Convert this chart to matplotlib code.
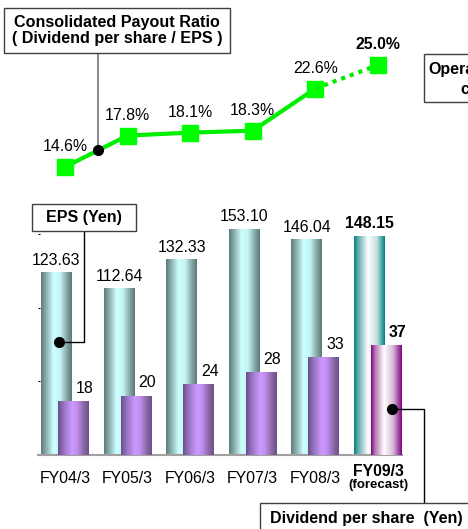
import numpy as np
import matplotlib
matplotlib.use('Agg')
import matplotlib.pyplot as plt
from matplotlib.colors import LinearSegmentedColormap
from matplotlib.patches import Rectangle

plt.rcParams['font.family'] = ['Liberation Sans', 'DejaVu Sans']

categories = ['FY04/3', 'FY05/3', 'FY06/3', 'FY07/3', 'FY08/3', 'FY09/3']
eps = [123.63, 112.64, 132.33, 153.10, 146.04, 148.15]
dividend = [18, 20, 24, 28, 33, 37]
payout = [14.6, 17.8, 18.1, 18.3, 22.6, 25.0]
forecast = [False, False, False, False, False, True]

W, H = 468, 529
fig = plt.figure(figsize=(W / 100, H / 100), dpi=100)


def fpos(x, y, w, h):
    # pixel box (from top-left) -> figure fraction
    return [x / W, 1 - (y + h) / H, w / W, h / H]


# gradient colormaps for the cylinder look
eps_cm = LinearSegmentedColormap.from_list('eps', [(0, '#5d7c7c'), (0.18, '#8fb3b3'), (0.4, '#ccffff'),
                                                   (0.62, '#c4f4f4'), (0.84, '#86a6a6'), (1, '#5a7878')])
div_cm = LinearSegmentedColormap.from_list('div', [(0, '#6a4f8c'), (0.2, '#9a76c4'), (0.45, '#cc99ff'),
                                                   (0.62, '#bf8ff0'), (0.85, '#87659f'), (1, '#6a4f8c')])
eps_fc = LinearSegmentedColormap.from_list('epsf', [(0, '#008080'), (0.12, '#5aa8a8'), (0.45, '#ffffff'),
                                                    (0.75, '#c0dede'), (1, '#008080')])
div_fc = LinearSegmentedColormap.from_list('divf', [(0, '#800080'), (0.12, '#b070b0'), (0.42, '#ffffff'),
                                                    (0.72, '#d8b8d8'), (1, '#800080')])
grad = np.linspace(0, 1, 128).reshape(1, -1)

# bar axes (EPS left scale, dividend at double scale on twin)
ax = fig.add_axes(fpos(38, 200, 364, 255))
ax2 = ax.twinx()
bw = 0.495
off = 0.136
x = np.arange(len(categories))
for i in x:
    cm = eps_fc if forecast[i] else eps_cm
    ax.imshow(grad, cmap=cm, extent=(i - off - bw / 2, i - off + bw / 2, 0, eps[i]),
              aspect='auto', interpolation='bilinear')
    cm = div_fc if forecast[i] else div_cm
    ax2.imshow(grad, cmap=cm, extent=(i + off - bw / 2, i + off + bw / 2, 0, dividend[i]),
               aspect='auto', interpolation='bilinear')
    fw = 'bold' if forecast[i] else 'normal'
    ax.annotate(f'{eps[i]:.2f}', (i - off, eps[i]), xytext=(0, 9), textcoords='offset points',
                ha='center', va='center', fontsize=11.4, fontweight=fw)
    ax2.annotate(f'{dividend[i]}', (i + off, dividend[i]), xytext=(8, 9.5), textcoords='offset points',
                 ha='center', va='center', fontsize=11.4, fontweight=fw)

ax.set_xlim(-0.431, 5.383)
ax.set_ylim(0, 255 / 1.475)
ax2.set_ylim(0, 255 / 2.95)
for a in (ax, ax2):
    for s in a.spines.values():
        s.set_visible(False)
    a.set_xticks([])
    a.set_yticks([])
ax.spines['bottom'].set_visible(True)
ax.spines['bottom'].set_color('#a0a0a0')
ax.spines['bottom'].set_linewidth(1.5)
ax.set_yticks([0, 50, 100, 150])
ax.tick_params(axis='y', length=1.2, width=0.8, labelleft=False, direction='in')

# category labels
for i, lab in enumerate(categories):
    if forecast[i]:
        ax.annotate(lab, (i, 0), xytext=(0, -12), textcoords='offset points', ha='center', va='center',
                    fontsize=11.4, fontweight='bold', annotation_clip=False)
        ax.annotate('(forecast)', (i, 0), xytext=(0, -21.5), textcoords='offset points', ha='center',
                    va='center', fontsize=9.5, fontweight='bold', annotation_clip=False)
    else:
        ax.annotate(lab, (i, 0), xytext=(0, -17), textcoords='offset points', ha='center', va='center',
                    fontsize=11.4, annotation_clip=False)

# payout ratio line
axl = fig.add_axes(fpos(38, 30, 364, 150))
axl.set_xlim(-0.431, 5.383)
axl.set_ylim((310 - 180) / 9.8, (310 - 30) / 9.8)
axl.axis('off')
axl.patch.set_alpha(0)
green = '#00ee00'
axl.plot(x[:5], payout[:5], color=green, lw=3, marker='s', ms=11, mfc='#00ff00', mec='#00ff00')
axl.plot(x[4:], payout[4:], color=green, lw=3, ls=(0, (1, 1.2)))
axl.plot(x[5], payout[5], marker='s', ms=11, color='#00ff00')
for i in x:
    fw = 'bold' if forecast[i] else 'normal'
    axl.annotate(f'{payout[i]:.1f}%', (i, payout[i]), xytext=(0, 14.5), textcoords='offset points',
                 ha='center', va='center', fontsize=11.4, fontweight=fw)

# callout boxes
def box(x0, y0, w, h):
    fig.add_artist(Rectangle((x0 / W, 1 - (y0 + h) / H), w / W, h / H, transform=fig.transFigure,
                             fc='white', ec='#404040', lw=1, zorder=5))

box(4, 8, 226, 45)
fig.text(117 / W, 1 - 30.5 / H, 'Consolidated Payout Ratio\n( Dividend per share / EPS )', ha='center',
         va='center', fontsize=11.6, fontweight='bold', linespacing=1.15, zorder=6)
px = 0.527
py = payout[0] + px * (payout[1] - payout[0])
axl.annotate('', (px, py), xytext=(98, H - 53), textcoords='figure pixels',
             arrowprops=dict(arrowstyle='-', color='#777777', lw=1.2, shrinkA=0, shrinkB=0))
axl.plot(px, py, 'o', color='black', ms=7, zorder=5)

box(32, 204, 104, 27)
fig.text(84 / W, 1 - 217.5 / H, 'EPS (Yen)', ha='center', va='center', fontsize=11.5,
         fontweight='bold', zorder=6)
ex, ey = -0.1, 76.6
ax.annotate('', (ex, ey), xytext=(84, H - 231), textcoords='figure pixels',
            arrowprops=dict(arrowstyle='-', color='black', lw=1, shrinkA=0, shrinkB=0,
                            connectionstyle='angle,angleA=90,angleB=0,rad=0'))
ax.plot(ex, ey, 'o', color='black', ms=7, zorder=5)

box(260, 503, 230, 40)
fig.text(270 / W, 1 - 518 / H, 'Dividend per share  (Yen)', ha='left', va='center', fontsize=11.5,
         fontweight='bold', zorder=6)
dx, dy = 5.22, 15.6
ax2.annotate('', (dx, dy), xytext=(424, H - 503), textcoords='figure pixels',
             arrowprops=dict(arrowstyle='-', color='black', lw=1, shrinkA=0, shrinkB=0,
                             connectionstyle='angle,angleA=90,angleB=0,rad=0'))
ax2.plot(dx, dy, 'o', color='black', ms=7, zorder=5)

# box running off the right edge, as in the source slide
box(424, 54, 120, 48)
fig.text(428 / W, 1 - 70 / H, 'Operating', ha='left', va='center', fontsize=11.5,
         fontweight='bold', zorder=6)
fig.text(461 / W, 1 - 90 / H, 'cash flow', ha='left', va='center', fontsize=11.5,
         fontweight='bold', zorder=6)

fig.savefig('out.png', dpi=100)
